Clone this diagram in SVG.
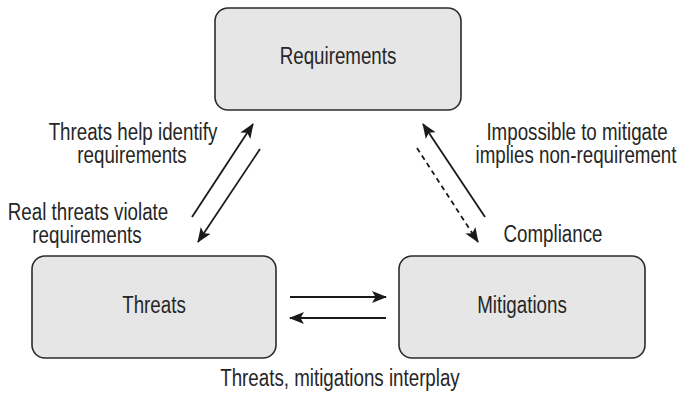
<svg xmlns="http://www.w3.org/2000/svg" width="683" height="396" viewBox="0 0 683 396">
  <style>
    .box { fill: #e6e6e7; stroke: #2b2b2b; stroke-width: 1.6; }
    .lbl { font-family: "Liberation Sans", Arial, sans-serif; font-size: 23px; fill: #262626; text-anchor: middle; }
    .arr { stroke: #1a1a1a; stroke-width: 1.8; fill: none; marker-end: url(#ah); }
    .dash { stroke-dasharray: 5 4; }
  </style>
  <defs>
    <marker id="ah" markerUnits="userSpaceOnUse" viewBox="0 0 15 12" markerWidth="15" markerHeight="12" refX="14" refY="6" orient="auto">
      <path d="M0,0 L15,6 L0,12 L3.5,6 Z" fill="#1a1a1a"/>
    </marker>
  </defs>
  <rect width="683" height="396" fill="#ffffff"/>
  <g id="connectors">
    <line class="arr" x1="290" y1="297" x2="386" y2="297"/>
    <line class="arr" x1="386" y1="318" x2="290" y2="318"/>
    <line class="arr" x1="192" y1="217" x2="253" y2="124"/>
    <line class="arr" x1="260" y1="149" x2="198" y2="242"/>
    <line class="arr" x1="485" y1="217" x2="423" y2="124"/>
    <line class="arr dash" x1="417" y1="148" x2="478" y2="242"/>
  </g>
  <g id="labels">
    <text class="lbl" transform="translate(133,140) scale(0.815,1)">Threats help identify</text>
    <text class="lbl" transform="translate(132,163) scale(0.815,1)">requirements</text>
    <text class="lbl" transform="translate(88,220) scale(0.815,1)">Real threats violate</text>
    <text class="lbl" transform="translate(87,243) scale(0.815,1)">requirements</text>
    <text class="lbl" transform="translate(577,140) scale(0.815,1)">Impossible to mitigate</text>
    <text class="lbl" transform="translate(576,163) scale(0.815,1)">implies non-requirement</text>
    <text class="lbl" transform="translate(553,242) scale(0.815,1)">Compliance</text>
    <text class="lbl" transform="translate(340,386) scale(0.815,1)">Threats, mitigations interplay</text>
  </g>
  <g id="requirements">
    <rect class="box" x="215" y="8" width="246" height="102" rx="13"/>
    <text class="lbl" transform="translate(338,64) scale(0.815,1)">Requirements</text>
  </g>
  <g id="threats">
    <rect class="box" x="32" y="256" width="244" height="102" rx="13"/>
    <text class="lbl" transform="translate(154,313) scale(0.815,1)">Threats</text>
  </g>
  <g id="mitigations">
    <rect class="box" x="399" y="256" width="246" height="102" rx="13"/>
    <text class="lbl" transform="translate(522,313) scale(0.815,1)">Mitigations</text>
  </g>
</svg>
